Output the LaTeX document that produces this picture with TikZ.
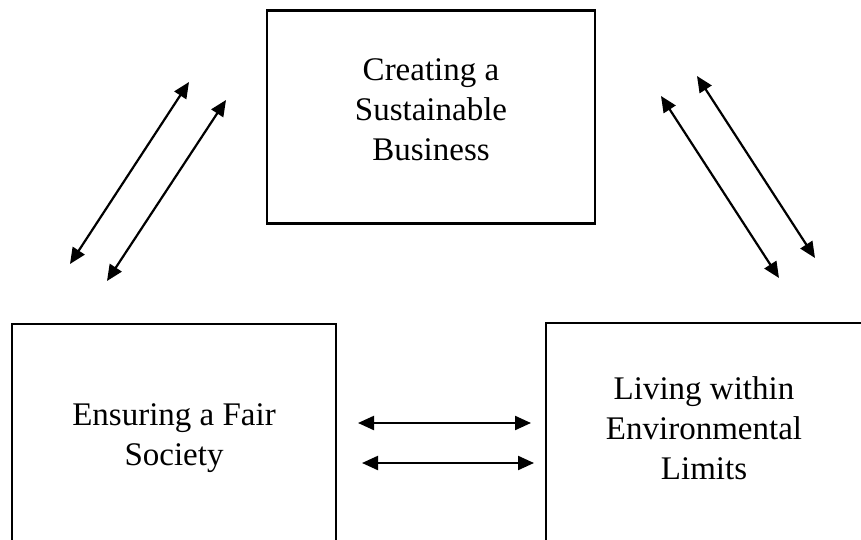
\documentclass[tikz,border=0pt]{standalone}
\usepackage{fontspec}
\setmainfont{Liberation Serif}
\usetikzlibrary{arrows.meta}
\tikzset{
  box/.style={draw=black, line width=2.2pt, rectangle, inner sep=0pt},
  label text/.style={align=center, inner sep=0pt, font=\fontsize{33}{40}\selectfont},
  link/.style={line width=2.2pt, {Triangle[length=16pt,width=14pt]}-{Triangle[length=16pt,width=14pt]}},
}
\begin{document}
\begin{tikzpicture}[x=1pt,y=-1pt]
\useasboundingbox (0,0) rectangle (861,540);
\clip (0,0) rectangle (861,540);
\fill[white] (0,0) rectangle (861,540);
% boxes
\node[box, minimum width=328pt, minimum height=213pt] (biz) at (431,117) {};
\node[box, minimum width=324pt, minimum height=252pt] (soc) at (174,450) {};
\node[box, minimum width=318pt, minimum height=258pt] (env) at (705,452) {};
% texts
\node[label text] (biztext) at (431,110) {Creating a\\Sustainable\\Business};
\node[label text] (soctext) at (174,438) {Ensuring a Fair\\Society};
\node[label text] (envtext) at (704,428) {Living within\\Environmental\\Limits};
% arrow end points
\coordinate (a1) at (70,264); \coordinate (a2) at (189,82);
\coordinate (b1) at (107,281); \coordinate (b2) at (226,100);
\coordinate (c1) at (661,96); \coordinate (c2) at (779,278);
\coordinate (d1) at (697,76); \coordinate (d2) at (815,258);
\coordinate (e1) at (358,423); \coordinate (e2) at (531,423);
\coordinate (f1) at (362,463); \coordinate (f2) at (534,463);
\draw[link] (a1) -- (a2);
\draw[link] (b1) -- (b2);
\draw[link] (c1) -- (c2);
\draw[link] (d1) -- (d2);
\draw[link] (e1) -- (e2);
\draw[link] (f1) -- (f2);
\end{tikzpicture}
\end{document}
